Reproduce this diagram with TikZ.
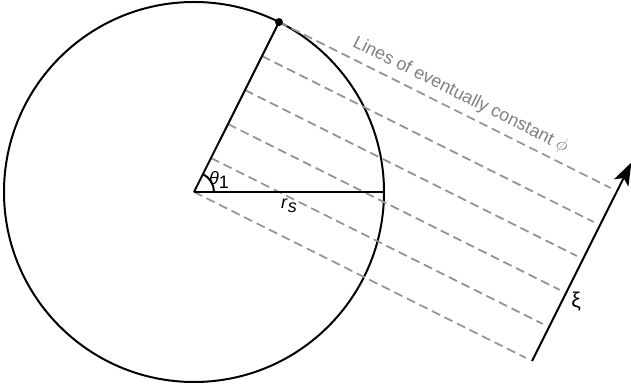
\documentclass[tikz,border=0pt]{standalone}
\usepackage{fontspec}
\setmainfont{Liberation Sans}
\usepackage{tikz}
\usetikzlibrary{calc}
\usetikzlibrary{arrows.meta}
\tikzstyle{dot}=[circle,fill=black, minimum size = 6pt, inner sep=0pt]
\tikzstyle{level}=[gray!85, dash pattern=on 6.75pt off 3.75pt, line width=1.3pt]
\tikzstyle{lbl}=[font=\fontsize{13.5}{16}\selectfont]

\begin{document}
\begin{tikzpicture}
        [x=0.75pt,y=0.75pt,line width=1.5pt]
            \useasboundingbox (0,0) rectangle (631,392);
            \coordinate (O) at (194,200);
            \coordinate (P) at ($(O)+(63.43:190)$);
            \coordinate (R) at ($(O)+(190,0)$);
            \draw (O) circle (190);
            % lines of constant phi
            \foreach \i in {0,...,5} {
                \coordinate (a\i) at ($(O)!\i/5!(P)$);
                \coordinate (b\i) at ($(a\i)+(-26.57:371)$);
                \draw [level] (a\i) -- (b\i);
            }
            \draw (O) -- (R);
            \draw (O) -- (P);
            \draw (O) ++(20,0) arc (0:63.43:20);
            \node [dot] (pdot) at (P) {};
            \node [lbl] (th) at ($(O)+(25,12)$) {\textit{θ}\raisebox{-0.35ex}{1}};
            \node [lbl] (rs) at ($(O)+(95,-14)$) {\textit{r}\raisebox{-0.45ex}{\textit{s}}};
            \node [lbl, text=gray, rotate=-26.57, anchor=south] (lines) at ($(P)+(-26.57:195)+(63.43:2)$) {Lines of eventually constant $\phi$};
            % xi axis
            \coordinate (xs) at ($(O)+(-26.57:378)$);
            \coordinate (xe) at ($(xs)+(63.43:222)$);
            \draw [-{Stealth[length=17pt,width=12pt,inset=4pt]}] (xs) -- (xe) node [font=\fontsize{16}{18}\selectfont, pos=0.3, right=3pt] (xi) {ξ};
        \end{tikzpicture}
\end{document}
